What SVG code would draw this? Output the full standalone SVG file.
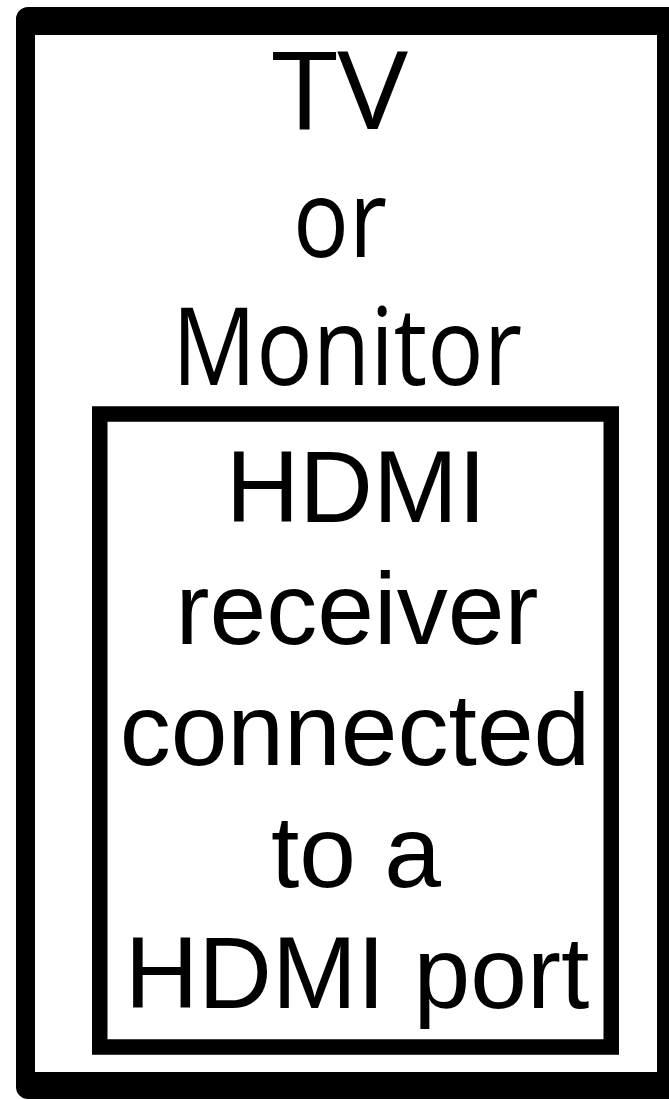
<svg xmlns="http://www.w3.org/2000/svg" width="669" height="1100" viewBox="0 0 669 1100">
<style>
.top{font-family:"Open Sans","Noto Sans",sans-serif;font-size:108px;fill:#000;text-anchor:middle}
.in{font-family:"Liberation Sans",Arial,sans-serif;font-size:102px;fill:#000;text-anchor:middle}
</style>
<rect width="669" height="1100" fill="#fff"/>
<g id="tv">
<path fill="#000" fill-rule="evenodd" d="M28,7 H700 V1099 H28 A12,12 0 0 1 16,1087 V19 A12,12 0 0 1 28,7 Z M35,35 V1072 H657 V35 Z"/>
<text class="top" x="340" y="129" textLength="136" lengthAdjust="spacingAndGlyphs">TV</text>
<text class="top" x="340" y="257" textLength="94" lengthAdjust="spacingAndGlyphs">or</text>
<text class="top" x="347" y="385" textLength="350" lengthAdjust="spacingAndGlyphs">Monitor</text>
</g>
<g id="receiver">
<rect x="99.75" y="414" width="511.5" height="633" fill="none" stroke="#000" stroke-width="15.5"/>
<text class="in" x="356" y="522">HDMI</text>
<text class="in" x="357" y="644">receiver</text>
<text class="in" x="355" y="765">connected</text>
<text class="in" x="356" y="887">to a</text>
<text class="in" x="357" y="1008">HDMI port</text>
</g>
<g id="connectors"/>
</svg>
